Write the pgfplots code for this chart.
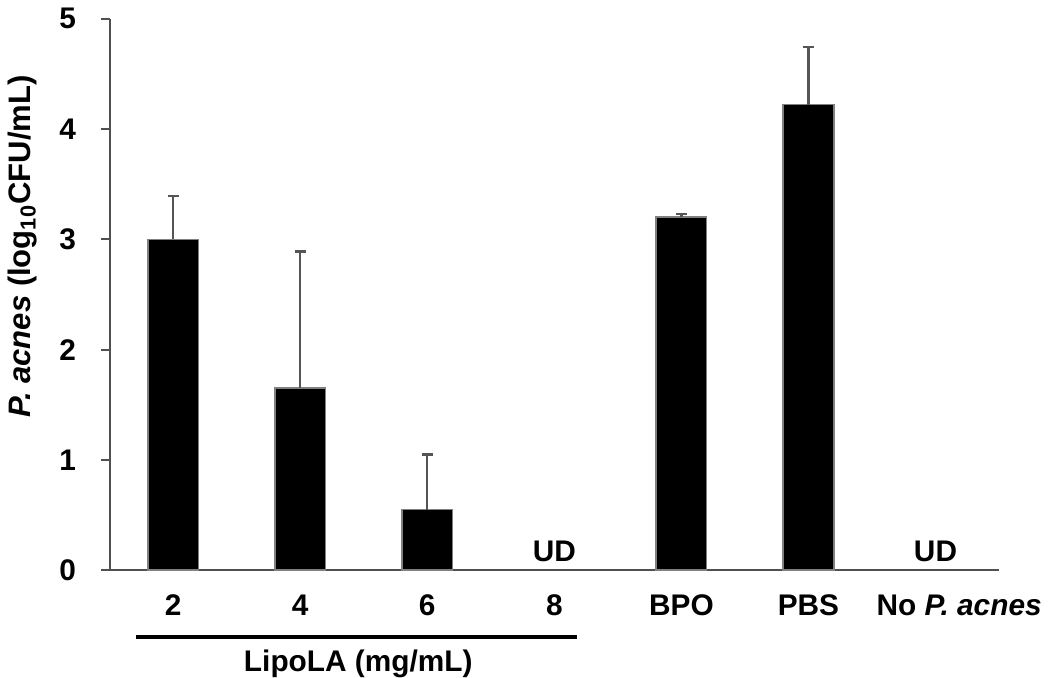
\documentclass[border=0pt]{standalone}
\usepackage{fontspec}
\setmainfont{Liberation Sans}
\usepackage{pgfplots}
\pgfplotsset{compat=1.18}

\definecolor{axisgray}{RGB}{80,80,80}
\definecolor{errgray}{RGB}{85,85,85}

\pgfplotstableread{
x   y     err
0   3.00  0.39
1   1.65  1.24
2   0.55  0.50
4   3.20  0.03
5   4.22  0.52
}\cfudata

\begin{document}
\begin{tikzpicture}
\begin{axis}[
    scale only axis,
    width=358pt, height=222pt,
    xmin=-0.5, xmax=6.5,
    ymin=0, ymax=5,
    axis x line=bottom, axis y line=left,
    axis line style={axisgray, line width=0.8pt, -},
    xtick={0,1,2,3,4,5,6},
    xticklabels={2,4,6,8,BPO,PBS,{\hspace{19pt}No \textit{P. acnes}}},
    xtick style={draw=none},
    ytick={0,1,2,3,4,5},
    ytick style={axisgray, line width=0.8pt},
    tick align=outside,
    major tick length=3.5pt,
    /pgf/number format/assume math mode=true,
    tick label style={font=\bfseries\fontsize{12}{14}\selectfont},
    xticklabel style={yshift=-3pt},
    yticklabel style={xshift=-6.5pt},
    ylabel={\textit{P. acnes} (log\textsubscript{10}CFU/mL)},
    ylabel style={at={(ticklabel cs:0.587)}, font=\bfseries\fontsize{12.5}{14}\selectfont, yshift=2pt},
    clip=false,
]
\addplot[ybar, bar width=20.4pt, fill=black, draw=gray, line width=0.6pt,
    error bars/.cd, y dir=plus, y explicit,
    error bar style={errgray, line width=0.9pt},
    error mark options={errgray, line width=0.9pt, rotate=90, mark size=2.2pt}]
    table[x=x, y=y, y error=err] {\cfudata};

\node[anchor=south, font=\bfseries\fontsize{12}{14}\selectfont] at (axis cs:3,0) {UD};
\node[anchor=south, font=\bfseries\fontsize{12}{14}\selectfont] at (axis cs:6,0) {UD};
\draw[black, line width=1.4pt] ([yshift=-26.8pt]axis cs:-0.29,0) -- ([yshift=-26.8pt]axis cs:3.18,0);
\node[inner sep=0pt, font=\bfseries\fontsize{12}{14}\selectfont] at ([yshift=-37.6pt]axis cs:1.457,0) {LipoLA (mg/mL)};
\end{axis}
\end{tikzpicture}
\end{document}
